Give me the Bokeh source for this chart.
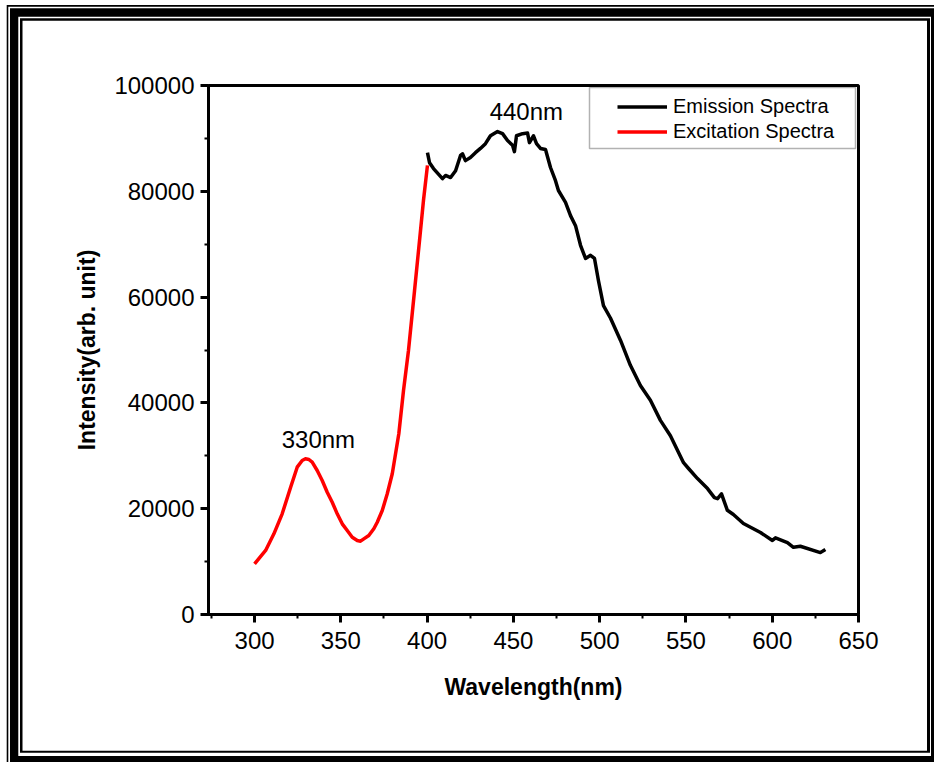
from bokeh.plotting import figure
from bokeh.models import (Range1d, SingleIntervalTicker, Legend, LegendItem, Label,
                          BoxAnnotation, BasicTickFormatter)
from bokeh.embed import file_html
from bokeh.resources import INLINE

# ---------------- data ----------------
exc_wl = [300, 306.4, 311.2, 316.0, 320.9, 324.7, 327.6, 329.5, 331.5, 333.4,
          336.3, 339.2, 342.1, 345.0, 347.9, 350.8, 353.7, 356.6, 359.5, 361.4,
          363.3, 366.2, 369.1, 371.1, 374.0, 376.9, 379.8, 381.7, 383.6, 386.3,
          389.2, 392.7, 395.6, 397.9, 400.2]
exc_int = [9580, 12100, 15250, 19030, 24070, 27850, 29110, 29430, 29300, 28800,
           27220, 25330, 23120, 21230, 19030, 17140, 15880, 14610, 13990, 13860,
           14300, 14930, 16200, 17450, 19660, 22820, 26600, 30380, 34160, 42300,
           49900, 61200, 70700, 78300, 84900]

em_wl = [400.2, 401.4, 403.7, 408.9, 410.7, 413.6, 416.5, 419.4, 420.5, 422.2,
         425.1, 428, 430.9, 433.8, 436.7, 440.8, 443.7, 446.6, 449.5, 450.6,
         451.8, 455.3, 458.2, 459.3, 461.6, 463.4, 465.7, 468.6, 471.5, 474.4,
         476.1, 480.2, 483.1, 486, 488.9, 491.8, 494.7, 497, 499.3, 502.2,
         506.3, 512.1, 517.8, 523.6, 529.4, 535.2, 541, 548.6, 551.5, 556.7,
         562.5, 566.5, 568.3, 570.6, 574, 577.5, 583.3, 593.2, 600.1, 601.9,
         608.8, 612.3, 616.3, 627.9, 630.8]
em_int = [87300, 85400, 84300, 82400, 83000, 82600, 83900, 86800, 87100, 85800,
          86400, 87300, 88100, 89000, 90500, 91300, 90900, 89600, 88700, 87500,
          90500, 90900, 91000, 89200, 90500, 89000, 88100, 87900, 84500, 82000,
          80150, 77900, 75400, 73500, 69800, 67300, 67900, 67300, 63100, 58400,
          56000, 51800, 47100, 43300, 40500, 36700, 33800, 28700, 27600, 25700,
          23800, 22100, 21900, 22800, 19700, 18900, 17200, 15500, 14000, 14500,
          13600, 12700, 12900, 11700, 12300]

series_names = ["Emission Spectra", "Excitation Spectra"]
peak_labels = ["440nm", "330nm"]
peak_label_x = [457.5, 337]
peak_label_y = [95000, 33000]

x_start, x_end, x_step = 273.3, 650, 50
y_start, y_end, y_step = 0, 100000, 20000

FONT = "Liberation Sans"
W, H = 934, 762

# page frame: nested rings (color, left, top, right, bottom) in canvas px
rings = [("white", 6.7, 5, None, None),
         ("black", 8.3, 6.7, None, None),
         ("white", 10, 8.3, None, None),
         ("black", 18.3, 16.7, 931, 756),
         ("white", 20, 18.3, 930, 752.7),
         ("black", 22.5, 20.7, 927, 750.7)]
shadows = []
for c, l, t, r, b in rings:
    shadows.append(f"inset {l}px 0 0 0 {c}")
    shadows.append(f"inset 0 {t}px 0 0 {c}")
    if r is not None:
        shadows.append(f"inset -{W - r}px 0 0 0 {c}")
    if b is not None:
        shadows.append(f"inset 0 -{H - b}px 0 0 {c}")

p = figure(width=W, height=H, output_backend="svg", toolbar_location=None,
           x_range=Range1d(x_start, x_end), y_range=Range1d(y_start, y_end),
           min_border_left=208, min_border_right=76, min_border_top=85,
           min_border_bottom=148, background_fill_color="white",
           border_fill_alpha=0)
p.styles = {"box-shadow": ", ".join(shadows)}
p.title.visible = False
p.grid.visible = False
p.outline_line_color = "black"
p.outline_line_width = 3

p.xaxis.ticker = SingleIntervalTicker(interval=x_step, num_minor_ticks=2)
p.yaxis.ticker = SingleIntervalTicker(interval=y_step, num_minor_ticks=2)
p.yaxis.formatter = BasicTickFormatter(use_scientific=False)
p.xaxis.axis_label = "Wavelength(nm)"
p.yaxis.axis_label = "Intensity(arb. unit)"

for ax in (p.xaxis[0], p.yaxis[0]):
    ax.axis_line_width = 3
    ax.axis_line_color = "black"
    ax.major_tick_line_width = 3
    ax.minor_tick_line_width = 2
    ax.major_tick_line_color = "black"
    ax.minor_tick_line_color = "black"
    ax.major_tick_out = 8
    ax.major_tick_in = 0
    ax.minor_tick_out = 4
    ax.minor_tick_in = 0
    ax.major_label_text_font = FONT
    ax.major_label_text_font_size = "24px"
    ax.major_label_text_color = "black"
    ax.axis_label_text_font = FONT
    ax.axis_label_text_font_size = "23px"
    ax.axis_label_text_font_style = "bold"
    ax.axis_label_text_color = "black"
p.xaxis.major_label_standoff = 9
p.yaxis.major_label_standoff = 6
p.xaxis.axis_label_standoff = 22
p.yaxis.axis_label_standoff = 11

em = p.line(em_wl, em_int, line_color="black", line_width=3.5, line_join="round")
ex = p.line(exc_wl, exc_int, line_color="#ff0000", line_width=3.5, line_join="round")

for t, lx, ly in zip(peak_labels, peak_label_x, peak_label_y):
    p.add_layout(Label(x=lx, y=ly, text=t, text_align="center",
                       text_baseline="alphabetic", text_font=FONT,
                       text_font_size="24px", text_color="black"))

# legend frame (decorative box)
p.add_layout(BoxAnnotation(left=589, right=855, top=87, bottom=148,
                           left_units="canvas", right_units="canvas",
                           top_units="canvas", bottom_units="canvas",
                           fill_alpha=0, line_color="black", line_width=1.5))

legend = Legend(items=[LegendItem(label=series_names[0], renderers=[em]),
                       LegendItem(label=series_names[1], renderers=[ex])],
                location=(403, 464), padding=6, spacing=0, margin=0,
                glyph_width=50, glyph_height=25, label_height=25,
                label_standoff=6, label_text_font=FONT, label_text_font_size="20px",
                label_text_color="black", border_line_alpha=0,
                background_fill_alpha=0)
p.add_layout(legend)

open("out.html", "w").write(file_html(p, INLINE))
